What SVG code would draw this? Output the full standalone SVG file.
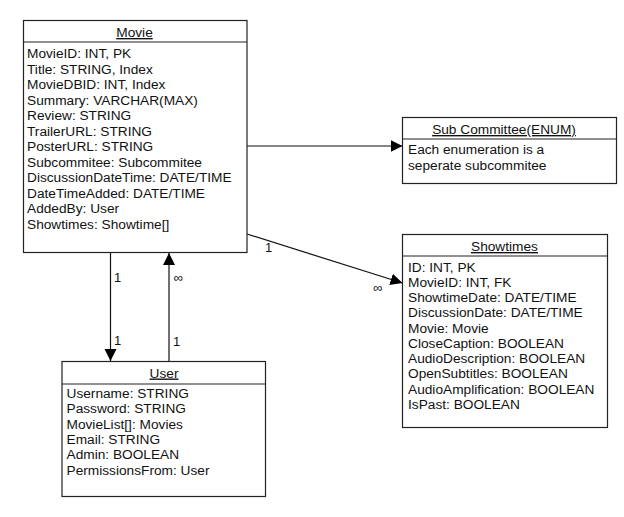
<svg xmlns="http://www.w3.org/2000/svg" width="624" height="517" viewBox="0 0 624 517">
<style>
.box{fill:#fff;stroke:#222;stroke-width:1.2}
.sep{stroke:#222;stroke-width:1.2}
.t{font-family:"Liberation Sans",Arial,sans-serif;font-size:13.7px;fill:#111}
.h{text-anchor:middle;text-decoration:underline}
.c{stroke:#111;stroke-width:1.2;fill:none}
.lbl{font-family:"Liberation Sans",Arial,sans-serif;font-size:13px;fill:#111;text-anchor:middle}
</style>
<defs>
<marker id="arr" markerWidth="13" markerHeight="13" refX="12" refY="6.5" orient="auto" markerUnits="userSpaceOnUse">
<path d="M0,0.5 L12,6.5 L0,12.5 Z" fill="#000"/>
</marker>
</defs>
<rect width="624" height="517" fill="#fff"/>
<g id="connectors">
<line class="c" x1="247" y1="146" x2="402.5" y2="146" marker-end="url(#arr)"/>
<line class="c" x1="247" y1="234" x2="402.5" y2="283" marker-end="url(#arr)"/>
<line class="c" x1="110.5" y1="252.5" x2="110.5" y2="361" marker-end="url(#arr)"/>
<line class="c" x1="169" y1="361.5" x2="169" y2="253" marker-end="url(#arr)"/>
<text class="lbl" x="117.5" y="282">1</text>
<text class="lbl" x="117.5" y="345">1</text>
<text class="lbl" x="178.5" y="282">∞</text>
<text class="lbl" x="176.5" y="345.5">1</text>
<text class="lbl" x="268.5" y="251.5">1</text>
<text class="lbl" x="378" y="292">∞</text>
</g>
<g id="movie">
<rect class="box" x="23.5" y="20.5" width="223.5" height="232"/>
<line class="sep" x1="23.5" y1="42" x2="247" y2="42"/>
<text class="t h" x="134.5" y="37">Movie</text>
<text class="t" x="27">
<tspan x="27" y="58">MovieID: INT, PK</tspan>
<tspan x="27" y="73.5">Title: STRING, Index</tspan>
<tspan x="27" y="89">MovieDBID: INT, Index</tspan>
<tspan x="27" y="104.5">Summary: VARCHAR(MAX)</tspan>
<tspan x="27" y="120">Review: STRING</tspan>
<tspan x="27" y="135.5">TrailerURL: STRING</tspan>
<tspan x="27" y="151">PosterURL: STRING</tspan>
<tspan x="27" y="166.5">Subcommitee: Subcommitee</tspan>
<tspan x="27" y="182">DiscussionDateTime: DATE/TIME</tspan>
<tspan x="27" y="197.5">DateTimeAdded: DATE/TIME</tspan>
<tspan x="27" y="213">AddedBy: User</tspan>
<tspan x="27" y="228.5">Showtimes: Showtime[]</tspan>
</text>
</g>
<g id="subcommittee">
<rect class="box" x="402.5" y="117.5" width="214" height="66"/>
<line class="sep" x1="402.5" y1="139" x2="616.5" y2="139"/>
<text class="t h" x="504" y="134">Sub Committee(ENUM)</text>
<text class="t" x="408">
<tspan x="408" y="154">Each enumeration is a</tspan>
<tspan x="408" y="170">seperate subcommitee</tspan>
</text>
</g>
<g id="showtimes">
<rect class="box" x="402.5" y="234.5" width="205" height="193"/>
<line class="sep" x1="402.5" y1="256" x2="607.5" y2="256"/>
<text class="t h" x="504.5" y="251">Showtimes</text>
<text class="t" x="408">
<tspan x="408" y="271.5">ID: INT, PK</tspan>
<tspan x="408" y="286.8">MovieID: INT, FK</tspan>
<tspan x="408" y="302">ShowtimeDate: DATE/TIME</tspan>
<tspan x="408" y="317.3">DiscussionDate: DATE/TIME</tspan>
<tspan x="408" y="332.5">Movie: Movie</tspan>
<tspan x="408" y="347.8">CloseCaption: BOOLEAN</tspan>
<tspan x="408" y="363">AudioDescription: BOOLEAN</tspan>
<tspan x="408" y="378.3">OpenSubtitles: BOOLEAN</tspan>
<tspan x="408" y="393.5">AudioAmplification: BOOLEAN</tspan>
<tspan x="408" y="408.8">IsPast: BOOLEAN</tspan>
</text>
</g>
<g id="user">
<rect class="box" x="62" y="361.5" width="203.5" height="135"/>
<line class="sep" x1="62" y1="384" x2="265.5" y2="384"/>
<text class="t h" x="164" y="377.5">User</text>
<text class="t" x="66.5">
<tspan x="66.5" y="398">Username: STRING</tspan>
<tspan x="66.5" y="413.3">Password: STRING</tspan>
<tspan x="66.5" y="428.6">MovieList[]: Movies</tspan>
<tspan x="66.5" y="443.9">Email: STRING</tspan>
<tspan x="66.5" y="459.2">Admin: BOOLEAN</tspan>
<tspan x="66.5" y="474.5">PermissionsFrom: User</tspan>
</text>
</g>
</svg>
